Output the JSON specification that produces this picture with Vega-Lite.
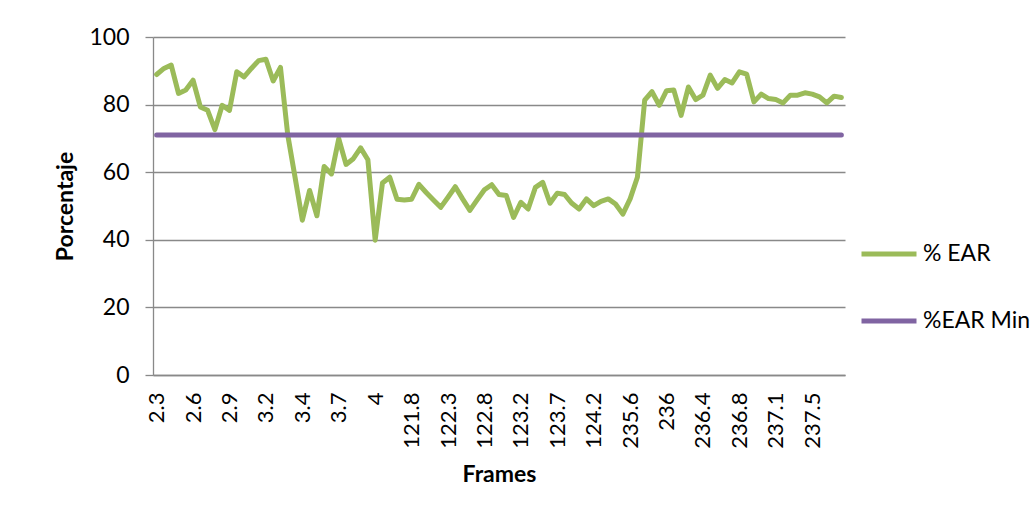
{
  "$schema": "https://vega.github.io/schema/vega-lite/v6.json",
  "width": 692,
  "height": 338,
  "autosize": {"type": "none"},
  "padding": {"left": 153, "top": 37, "right": 189, "bottom": 148},
  "background": "white",
  "config": {
    "view": {"stroke": null},
    "font": "Lato",
    "axis": {
      "labelFont": "Lato",
      "titleFont": "Lato",
      "labelColor": "#000000",
      "titleColor": "#000000",
      "gridColor": "#898989",
      "gridWidth": 1.3,
      "domainColor": "#898989",
      "domainWidth": 1.3,
      "tickColor": "#898989",
      "tickWidth": 1.3
    },
    "legend": {"labelFont": "Lato"}
  },
  "data": {
    "values": [
      {"frame": "2.3", "% EAR": 88.9, "%EAR Min": 71},
      {"frame": "2.36", "% EAR": 90.7, "%EAR Min": 71},
      {"frame": "2.42", "% EAR": 91.7, "%EAR Min": 71},
      {"frame": "2.48", "% EAR": 83.3, "%EAR Min": 71},
      {"frame": "2.54", "% EAR": 84.3, "%EAR Min": 71},
      {"frame": "2.6", "% EAR": 87.2, "%EAR Min": 71},
      {"frame": "2.66", "% EAR": 79.3, "%EAR Min": 71},
      {"frame": "2.72", "% EAR": 78.3, "%EAR Min": 71},
      {"frame": "2.78", "% EAR": 72.6, "%EAR Min": 71},
      {"frame": "2.84", "% EAR": 79.8, "%EAR Min": 71},
      {"frame": "2.9", "% EAR": 78.3, "%EAR Min": 71},
      {"frame": "2.96", "% EAR": 89.7, "%EAR Min": 71},
      {"frame": "3.02", "% EAR": 88.2, "%EAR Min": 71},
      {"frame": "3.08", "% EAR": 90.7, "%EAR Min": 71},
      {"frame": "3.14", "% EAR": 93.0, "%EAR Min": 71},
      {"frame": "3.2", "% EAR": 93.4, "%EAR Min": 71},
      {"frame": "3.24", "% EAR": 87.0, "%EAR Min": 71},
      {"frame": "3.28", "% EAR": 91.0, "%EAR Min": 71},
      {"frame": "3.32", "% EAR": 71.0, "%EAR Min": 71},
      {"frame": "3.36", "% EAR": 58.5, "%EAR Min": 71},
      {"frame": "3.4", "% EAR": 45.8, "%EAR Min": 71},
      {"frame": "3.46", "% EAR": 54.6, "%EAR Min": 71},
      {"frame": "3.52", "% EAR": 47.1, "%EAR Min": 71},
      {"frame": "3.58", "% EAR": 61.7, "%EAR Min": 71},
      {"frame": "3.64", "% EAR": 59.5, "%EAR Min": 71},
      {"frame": "3.7", "% EAR": 69.9, "%EAR Min": 71},
      {"frame": "3.76", "% EAR": 62.3, "%EAR Min": 71},
      {"frame": "3.82", "% EAR": 64.0, "%EAR Min": 71},
      {"frame": "3.88", "% EAR": 67.2, "%EAR Min": 71},
      {"frame": "3.94", "% EAR": 63.7, "%EAR Min": 71},
      {"frame": "4", "% EAR": 39.9, "%EAR Min": 71},
      {"frame": "121.4", "% EAR": 56.8, "%EAR Min": 71},
      {"frame": "121.5", "% EAR": 58.5, "%EAR Min": 71},
      {"frame": "121.6", "% EAR": 52.0, "%EAR Min": 71},
      {"frame": "121.7", "% EAR": 51.8, "%EAR Min": 71},
      {"frame": "121.8", "% EAR": 52.0, "%EAR Min": 71},
      {"frame": "121.9", "% EAR": 56.4, "%EAR Min": 71},
      {"frame": "122", "% EAR": 54.0, "%EAR Min": 71},
      {"frame": "122.1", "% EAR": 51.8, "%EAR Min": 71},
      {"frame": "122.2", "% EAR": 49.6, "%EAR Min": 71},
      {"frame": "122.3", "% EAR": 52.6, "%EAR Min": 71},
      {"frame": "122.4", "% EAR": 55.7, "%EAR Min": 71},
      {"frame": "122.5", "% EAR": 52.1, "%EAR Min": 71},
      {"frame": "122.6", "% EAR": 48.7, "%EAR Min": 71},
      {"frame": "122.7", "% EAR": 51.8, "%EAR Min": 71},
      {"frame": "122.8", "% EAR": 54.8, "%EAR Min": 71},
      {"frame": "122.88", "% EAR": 56.3, "%EAR Min": 71},
      {"frame": "122.96", "% EAR": 53.4, "%EAR Min": 71},
      {"frame": "123.04", "% EAR": 53.1, "%EAR Min": 71},
      {"frame": "123.12", "% EAR": 46.6, "%EAR Min": 71},
      {"frame": "123.2", "% EAR": 51.1, "%EAR Min": 71},
      {"frame": "123.3", "% EAR": 49.1, "%EAR Min": 71},
      {"frame": "123.4", "% EAR": 55.5, "%EAR Min": 71},
      {"frame": "123.5", "% EAR": 57.0, "%EAR Min": 71},
      {"frame": "123.6", "% EAR": 50.8, "%EAR Min": 71},
      {"frame": "123.7", "% EAR": 53.8, "%EAR Min": 71},
      {"frame": "123.8", "% EAR": 53.4, "%EAR Min": 71},
      {"frame": "123.9", "% EAR": 50.8, "%EAR Min": 71},
      {"frame": "124", "% EAR": 49.1, "%EAR Min": 71},
      {"frame": "124.1", "% EAR": 52.1, "%EAR Min": 71},
      {"frame": "124.2", "% EAR": 50.1, "%EAR Min": 71},
      {"frame": "124.3", "% EAR": 51.4, "%EAR Min": 71},
      {"frame": "124.4", "% EAR": 52.1, "%EAR Min": 71},
      {"frame": "124.5", "% EAR": 50.6, "%EAR Min": 71},
      {"frame": "124.6", "% EAR": 47.6, "%EAR Min": 71},
      {"frame": "235.6", "% EAR": 52.1, "%EAR Min": 71},
      {"frame": "235.68", "% EAR": 58.5, "%EAR Min": 71},
      {"frame": "235.76", "% EAR": 81.3, "%EAR Min": 71},
      {"frame": "235.84", "% EAR": 83.8, "%EAR Min": 71},
      {"frame": "235.92", "% EAR": 79.8, "%EAR Min": 71},
      {"frame": "236", "% EAR": 84.1, "%EAR Min": 71},
      {"frame": "236.08", "% EAR": 84.3, "%EAR Min": 71},
      {"frame": "236.16", "% EAR": 76.8, "%EAR Min": 71},
      {"frame": "236.24", "% EAR": 85.2, "%EAR Min": 71},
      {"frame": "236.32", "% EAR": 81.5, "%EAR Min": 71},
      {"frame": "236.4", "% EAR": 82.8, "%EAR Min": 71},
      {"frame": "236.48", "% EAR": 88.7, "%EAR Min": 71},
      {"frame": "236.56", "% EAR": 84.8, "%EAR Min": 71},
      {"frame": "236.64", "% EAR": 87.4, "%EAR Min": 71},
      {"frame": "236.72", "% EAR": 86.4, "%EAR Min": 71},
      {"frame": "236.8", "% EAR": 89.7, "%EAR Min": 71},
      {"frame": "236.86", "% EAR": 89.0, "%EAR Min": 71},
      {"frame": "236.92", "% EAR": 80.8, "%EAR Min": 71},
      {"frame": "236.98", "% EAR": 83.1, "%EAR Min": 71},
      {"frame": "237.04", "% EAR": 81.8, "%EAR Min": 71},
      {"frame": "237.1", "% EAR": 81.5, "%EAR Min": 71},
      {"frame": "237.18", "% EAR": 80.5, "%EAR Min": 71},
      {"frame": "237.26", "% EAR": 82.8, "%EAR Min": 71},
      {"frame": "237.34", "% EAR": 82.8, "%EAR Min": 71},
      {"frame": "237.42", "% EAR": 83.5, "%EAR Min": 71},
      {"frame": "237.5", "% EAR": 83.1, "%EAR Min": 71},
      {"frame": "237.58", "% EAR": 82.3, "%EAR Min": 71},
      {"frame": "237.66", "% EAR": 80.5, "%EAR Min": 71},
      {"frame": "237.74", "% EAR": 82.5, "%EAR Min": 71},
      {"frame": "237.82", "% EAR": 82.1, "%EAR Min": 71}
    ]
  },
  "transform": [
    {"fold": ["% EAR", "%EAR Min"], "as": ["series", "value"]}
  ],
  "mark": {"type": "line", "strokeWidth": 5, "strokeCap": "round", "strokeJoin": "round"},
  "encoding": {
    "x": {
      "field": "frame",
      "type": "ordinal",
      "sort": null,
      "scale": {"padding": 0.5},
      "axis": {
        "title": "Frames",
        "titleFontSize": 23,
        "titleFontWeight": "bold",
        "titlePadding": 15,
        "labelAngle": 270,
        "labelFontSize": 22,
        "labelPadding": 17,
        "ticks": false,
        "grid": false,
        "values": ["2.3", "2.6", "2.9", "3.2", "3.4", "3.7", "4", "121.8", "122.3", "122.8", "123.2", "123.7", "124.2", "235.6", "236", "236.4", "236.8", "237.1", "237.5"]
      }
    },
    "y": {
      "field": "value",
      "type": "quantitative",
      "scale": {"domain": [0, 100]},
      "axis": {
        "title": "Porcentaje",
        "titleFontSize": 23,
        "titleFontWeight": "bold",
        "titlePadding": 11,
        "labelFontSize": 23,
        "labelPadding": 16,
        "tickSize": 8,
        "values": [0, 20, 40, 60, 80, 100],
        "grid": true
      }
    },
    "color": {
      "field": "series",
      "type": "nominal",
      "scale": {"domain": ["% EAR", "%EAR Min"], "range": ["#9BBB59", "#8064A2"]},
      "legend": {
        "title": null,
        "orient": "none",
        "legendX": 706,
        "legendY": 187,
        "symbolType": "stroke",
        "symbolSize": 3025,
        "symbolStrokeWidth": 5,
        "labelFontSize": 23,
        "labelColor": "#000000",
        "labelOffset": 4,
        "rowPadding": 25
      }
    }
  }
}
